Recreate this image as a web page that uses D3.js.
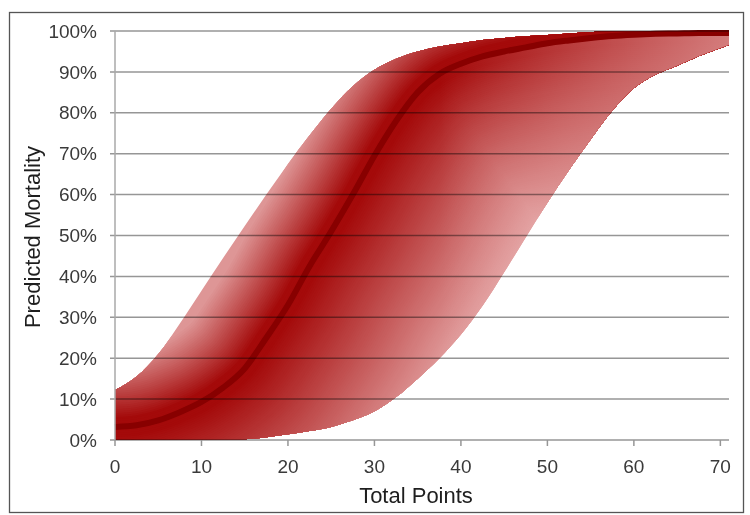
<!DOCTYPE html>
<html><head><meta charset="utf-8">
<script src="https://cdn.jsdelivr.net/npm/d3@7"></script>
<style>body{margin:0;background:#fff} svg{display:block}</style>
</head><body>
<svg id="chart" width="750" height="515"></svg>
<script>
// ---- data ----
const totalPoints = [0,2.5,5,7.5,10,12.5,15,17.5,20,22.5,25,27.5,30,32.5,35,37.5,40,42.5,45,47.5,50,52.5,55,57.5,60,62.5,65,67.5,71];
const predictedMortality = [3.2,3.6,4.8,6.8,9.3,12.8,17.5,25,33,42.5,51,60,69.5,78,85,89.5,92,93.8,95,96,97,97.7,98.3,98.8,99.1,99.3,99.4,99.5,99.5];
const upperBound = [12.2,15.5,21,28.5,36.5,44.5,52.3,60,67.5,74.5,81,86.5,90.5,93.2,95,96.2,97,97.8,98.3,98.7,99,99.4,99.7,100,100,100,100,100,100];
const lowerBound = [0,0,0,0,0,0,0.2,0.7,1.4,2.2,3.2,4.8,7,10.5,15,20,25.8,32.8,41,49.5,58,66,73.5,80.5,86,89.3,91.5,93.8,96.6];
const xTickValues = [0,10,20,30,40,50,60,70];
const yTickValues = [0,10,20,30,40,50,60,70,80,90,100];
const xTitle = "Total Points";
const yTitle = "Predicted Mortality";

const rows = totalPoints.map((p,i)=>({p, m:predictedMortality[i], u:upperBound[i], l:lowerBound[i]}));

const svg = d3.select('#chart');
const x = d3.scaleLinear().domain([0,71]).range([115,729]);
const y = d3.scaleLinear().domain([0,100]).range([440,31]);

// outer border
svg.append('rect').attr('x',9.5).attr('y',12.5).attr('width',734).attr('height',500)
  .attr('fill','#fff').attr('stroke','#555').attr('stroke-width',1.3);

const defs = svg.append('defs');
const curve = d3.curveMonotoneX;
const upperArea = d3.area().curve(curve).x(d=>x(d.p)).y0(d=>y(d.m)).y1(d=>y(d.u));
const lowerArea = d3.area().curve(curve).x(d=>x(d.p)).y0(d=>y(d.l)).y1(d=>y(d.m));
const midLine = d3.line().curve(curve).x(d=>x(d.p)).y(d=>y(d.m));

defs.append('clipPath').attr('id','clipU').append('path').attr('d',upperArea(rows));
defs.append('clipPath').attr('id','clipL').append('path').attr('d',lowerArea(rows));

const dark = d3.rgb(164,10,10);
// shading by distance from the central line: nested strokes, widest (lightest) first
function shade(g, light, d0, d1){
  const col = d3.interpolateRgb(dark, light);
  const ds = d3.range(d1, 0, -2);
  g.selectAll('path.s').data(ds).join('path').attr('class','s')
    .attr('d', midLine(rows)).attr('fill','none')
    .attr('stroke-linecap','square').attr('stroke-linejoin','round')
    .attr('stroke-width', d=>2*d)
    .attr('stroke', d=>col(Math.max(0, Math.min(1, (d-d0)/(d1-d0)))));
}

// upper band
svg.append('path').attr('d',upperArea(rows)).attr('fill','rgb(222,150,150)');
const gU = svg.append('g').attr('clip-path','url(#clipU)');
shade(gU, d3.rgb(222,150,150), 10, 72);

// lower band
svg.append('path').attr('d',lowerArea(rows)).attr('fill','rgb(227,162,162)');
const gL = svg.append('g').attr('clip-path','url(#clipL)');
shade(gL, d3.rgb(227,162,162), 10, 172);
// fade towards the right for the lower band
const lg = defs.append('linearGradient').attr('id','fadeR').attr('gradientUnits','userSpaceOnUse')
  .attr('x1',440).attr('x2',729).attr('y1',0).attr('y2',0);
lg.append('stop').attr('offset',0).attr('stop-color','rgb(228,162,162)').attr('stop-opacity',0);
lg.append('stop').attr('offset',1).attr('stop-color','rgb(228,162,162)').attr('stop-opacity',0.75);
svg.append('path').attr('d',lowerArea(rows)).attr('fill','url(#fadeR)');

// central line
svg.append('path').attr('d',midLine(rows)).attr('fill','none').attr('stroke','#880000')
  .attr('stroke-width',6);

// gridlines (over the bands)
svg.append('g').selectAll('line').data(yTickValues).join('line')
  .attr('x1',110).attr('x2',729).attr('y1',d=>y(d)).attr('y2',d=>y(d))
  .attr('stroke','#969696').attr('stroke-width',1.5).style('mix-blend-mode','multiply');

// y axis line
svg.append('line').attr('x1',115).attr('x2',115).attr('y1',y(100)).attr('y2',y(0))
  .attr('stroke','#a8a8a8').attr('stroke-width',1.5);

// x ticks
svg.append('g').selectAll('line').data(xTickValues).join('line')
  .attr('x1',d=>x(d)).attr('x2',d=>x(d)).attr('y1',440).attr('y2',446)
  .attr('stroke','#969696').attr('stroke-width',1.5);

const font = 'Liberation Sans, Arial, sans-serif';
svg.append('g').selectAll('text').data(yTickValues).join('text')
  .attr('x',97).attr('y',d=>y(d)).attr('dy','0.35em').attr('text-anchor','end')
  .attr('font-family',font).attr('font-size',19).attr('fill','#3a3a3a')
  .text(d=>d+'%');
svg.append('g').selectAll('text').data(xTickValues).join('text')
  .attr('x',d=>x(d)).attr('y',473).attr('text-anchor','middle')
  .attr('font-family',font).attr('font-size',19).attr('fill','#3a3a3a')
  .text(d=>d);
svg.append('text').attr('x',416).attr('y',503).attr('text-anchor','middle')
  .attr('font-family',font).attr('font-size',22).attr('fill','#1e1e1e').text(xTitle);
svg.append('text').attr('transform','translate(40,237) rotate(-90)').attr('text-anchor','middle')
  .attr('font-family',font).attr('font-size',22).attr('fill','#1e1e1e').text(yTitle);
</script>
</body></html>
